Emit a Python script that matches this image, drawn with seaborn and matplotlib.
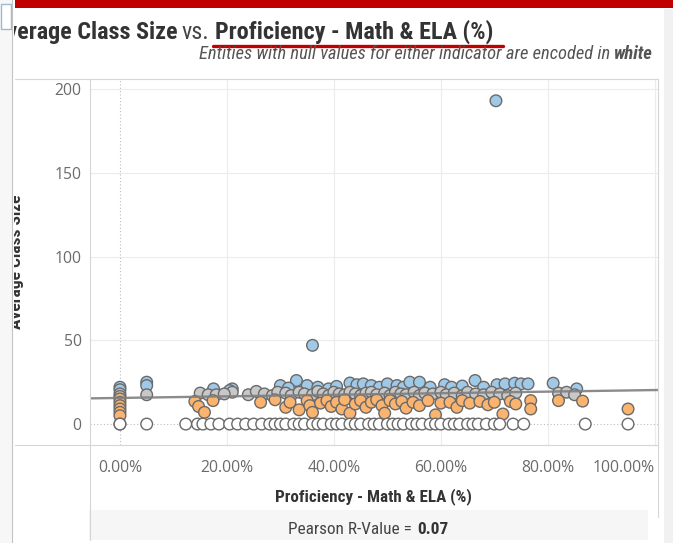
import numpy as np
import pandas as pd
import matplotlib
matplotlib.use("Agg")
import matplotlib.pyplot as plt
import seaborn as sns
from matplotlib import font_manager as fm
from matplotlib.transforms import Bbox
from matplotlib.lines import Line2D
from matplotlib.patches import Rectangle

# ---------------- data ----------------
blue_x = [0, 0, 5, 5, 17.5, 21, 20.5, 30, 33, 35, 31.5, 37, 39, 40.5, 43, 44.3, 45.5, 47, 48.5, 50,
          51.8, 53, 54.2, 56, 58, 60.7, 62, 64, 66.4, 68, 70.5, 72, 73.8, 75, 76.3, 81, 85.4, 36, 70.3]
blue_y = [22, 20.5, 25, 23, 21, 21, 20, 23, 26, 23, 21.5, 22, 21, 22.5, 24.5, 23.5, 24, 23, 22, 24,
          23, 22, 25, 25, 22, 23.5, 22, 22.7, 26, 22, 23.5, 24, 24.4, 24, 24, 24.4, 21, 47, 193]

gray_x = [0, 0, 5, 15, 16.5, 18, 21, 19.5, 24, 25.5, 27, 28.5, 29.5, 31, 32, 33.5, 34.5, 36, 37, 38,
          39, 40, 41, 42, 43, 44, 45, 46, 47, 48, 49.5, 50.5, 51.5, 52.5, 53.5, 55, 56, 57, 58.5, 60,
          61, 62.5, 64, 65, 66.5, 68, 69.5, 71, 72.5, 74, 82, 83.5, 85]
gray_y = [18, 16.5, 17.5, 18.5, 17.5, 17.5, 19, 18, 17.5, 19.5, 18, 17, 19, 18.5, 17, 19, 18, 17.5, 19.5, 18,
          17, 19, 18, 17.5, 19, 18, 17, 18.5, 19, 17.5, 18.5, 17, 19, 18, 17.5, 19, 17, 18.5, 18, 19,
          17.5, 18.5, 17, 19, 18, 17.5, 19, 18, 17, 18.5, 18.5, 19, 17.5]

orange_x = [0, 0, 0, 0, 0, 0, 14, 14.7, 15.8, 17.4, 26.3, 29, 31, 31.8, 33.5, 35, 35.5, 36, 37.5, 38.7,
            39.5, 40.5, 41.5, 42, 43, 44, 45, 46, 47, 48, 49, 49.5, 50.5, 51.5, 52.7, 53.5, 54.8, 56, 57.6, 59,
            60, 61.7, 63, 64, 65.4, 67.3, 68.8, 70, 71.6, 73, 74, 76.8, 76.8, 82, 86.5, 95]
orange_y = [15, 13, 11, 9, 7, 5, 13.5, 10.5, 7, 14, 13, 14.5, 10, 13, 8.5, 14, 11, 7, 12.5, 14,
            10.5, 13, 9, 14.5, 6.5, 12, 14, 10, 13, 14.5, 11, 6.5, 14, 12, 13.5, 9.5, 13, 11, 14, 5.5,
            12.5, 13, 10, 14, 12.5, 13.5, 11.5, 13, 6, 13.5, 12, 14, 9, 14, 13.7, 9]

white_x = [0, 0, 5, 12.3, 14.5, 15.5, 17, 18.5, 20.5, 22, 23.5, 25, 26.5, 28, 29, 30, 31, 32.5, 33.5, 34.5,
           36, 37, 38, 39.5, 40.5, 41.5, 43, 44, 45, 46.5, 47.5, 48.5, 50, 51, 52, 53, 54.5, 55.5, 56.5, 58,
           59, 60, 61.5, 62.5, 63.5, 65, 66, 67, 68.5, 70, 71, 73.5, 75.5, 87, 95]
white_y = [0] * len(white_x)

trend_intercept = 15.6   # class size at 0 %
trend_slope = 0.047      # per percentage point

x_ticks = [0, 20, 40, 60, 80, 100]
x_tick_labels = ["0.00%", "20.00%", "40.00%", "60.00%", "80.00%", "100.00%"]
y_ticks = [0, 50, 100, 150, 200]
y_tick_labels = ["0", "50", "100", "150", "200"]

title_bold_1 = "Average Class Size"
title_mid = "vs."
title_bold_2 = "Proficiency - Math & ELA (%)"
subtitle_text = "Entities with null values for either indicator are encoded in"
subtitle_bold = "white"
x_title = "Proficiency - Math & ELA (%)"
y_title = "Average Class Size"
pearson_label = "Pearson R-Value ="
pearson_value = "0.07"

groups = ["High", "Mid", "Low", "Null"]
palette = {"High": "#a0c9e8", "Mid": "#c8c8c8", "Low": "#fbb46f", "Null": "#ffffff"}

df = pd.concat([
    pd.DataFrame({"x": blue_x, "y": blue_y, "g": "High"}),
    pd.DataFrame({"x": gray_x, "y": gray_y, "g": "Mid"}),
    pd.DataFrame({"x": orange_x, "y": orange_y, "g": "Low"}),
    pd.DataFrame({"x": white_x, "y": white_y, "g": "Null"}),
], ignore_index=True)

# ---------------- style ----------------
sns.set_theme(style="white")


def has_font(name):
    try:
        fm.findfont(fm.FontProperties(family=name), fallback_to_default=False)
        return True
    except Exception:
        return False


COND = next((f for f in ["Roboto Condensed", "Fira Sans Condensed", "Asap Condensed",
                         "Archivo Narrow", "Liberation Sans"] if has_font(f)), "DejaVu Sans")
TICKF = next((f for f in ["Open Sans", "Lato", "DejaVu Sans"] if has_font(f)), "DejaVu Sans")
plt.rcParams["font.family"] = [COND, "DejaVu Sans"]

W, H = 673, 543
fig = plt.figure(figsize=(W / 100, H / 100), dpi=100)
fig.patch.set_facecolor("white")
renderer = fig.canvas.get_renderer()


def fx(x):
    return x / W


def fy(y):
    return 1 - y / H


def width_of(t):
    return t.get_window_extent(renderer).width


def fit(t, target):
    t.set_fontsize(t.get_fontsize() * target / width_of(t))
    return t.get_fontsize()


# axes placement (pixels)
L, R, T, B = 90, 658, 79, 445
ax = fig.add_axes([fx(L), fy(B), fx(R) - fx(L), fy(T) - fy(B)])
ax.set_facecolor("white")
xlim = (-5.6, 100.6)
ylim = (-12.5, 206)
ax.set_xlim(*xlim)
ax.set_ylim(*ylim)

# grid
for v in x_ticks[1:]:
    ax.axvline(v, color="#ececec", lw=0.8, zorder=0)
for v in y_ticks[1:]:
    ax.axhline(v, color="#ececec", lw=0.8, zorder=0)
ax.axvline(0, color="#bdbdbd", lw=0.8, ls=(0, (1, 2)), zorder=0)
ax.axhline(0, color="#bdbdbd", lw=0.8, ls=(0, (1, 2)), zorder=0)

sns.scatterplot(data=df, x="x", y="y", hue="g", hue_order=groups, palette=palette,
                s=70, edgecolor="#6a6a6a", linewidth=1.0, legend=False, ax=ax, zorder=3)

trend_df = pd.DataFrame({"x": list(xlim)})
trend_df["y"] = trend_intercept + trend_slope * trend_df["x"]
sns.lineplot(data=trend_df, x="x", y="y", color="#7f7f7f", lw=1.7, alpha=0.9, ax=ax, zorder=4)

ax.set_xticks(x_ticks)
ax.set_xticklabels(x_tick_labels)
ax.set_yticks(y_ticks)
ax.set_yticklabels(y_tick_labels)
ax.tick_params(axis="both", length=0, colors="#6b6b6b", labelsize=11.3)
ax.tick_params(axis="x", pad=11)
ax.tick_params(axis="y", pad=6)
for lab in ax.get_xticklabels() + ax.get_yticklabels():
    lab.set_fontfamily(TICKF)
ax.get_xticklabels()[-1].set_horizontalalignment("right")
ax.set_xlabel("")
ax.set_ylabel("")
for s in ax.spines.values():
    s.set_visible(False)

# ---------------- decorations ----------------
def fline(x0, y0, x1, y1, color="#d6d6d6", lw=0.8):
    fig.add_artist(Line2D([fx(x0), fx(x1)], [fy(y0), fy(y1)], transform=fig.transFigure,
                          color=color, lw=lw))


def frect(x0, y0, x1, y1, fc, ec="none", lw=0.0):
    fig.add_artist(Rectangle((fx(x0), fy(y1)), fx(x1) - fx(x0), fy(y0) - fy(y1),
                             transform=fig.transFigure, facecolor=fc, edgecolor=ec, lw=lw))


frect(0, 0, 12, H, "#f7f7f7")
frect(1, 4, 11, 29, "white", ec="#9fb9d3", lw=1.0)
fline(12, 0, 12, H, color="#c4c4c4")
frect(664, 9, W, H, "#f1f1f1")
frect(15, 0, W, 8, "#c00000")

fline(15, T, R, T)
fline(15, B, R, B)
fline(L, T, L, 540)
fline(R, T, R, 517)

clip = Bbox.from_extents(14, 0, W, H)

# title
t3 = fig.text(fx(215), fy(39), title_bold_2, ha="left", va="baseline", fontsize=18,
              fontweight="bold", color="#333333")
tsize = fit(t3, 278)
t1 = fig.text(fx(178), fy(39), title_bold_1, ha="right", va="baseline", fontsize=tsize,
              fontweight="bold", color="#333333")
t1.set_clip_box(clip)
t1.set_clip_on(True)
fig.text(fx(195), fy(39), title_mid, ha="center", va="baseline", fontsize=tsize, color="#444444")
fline(213, 45.5, 503, 45.5, color="#c00000", lw=2.4)

# subtitle
s1 = fig.text(fx(608), fy(59), subtitle_text, ha="right", va="baseline", fontsize=11,
              style="italic", color="#555555")
s2 = fig.text(fx(653), fy(59), subtitle_bold, ha="right", va="baseline", fontsize=11,
              style="italic", fontweight="bold", color="#555555")
w1, w2 = width_of(s1), width_of(s2)
k = (653 - 200) / (w1 + w2 + 4)
s1.set_fontsize(11 * k)
s2.set_fontsize(11 * k)
s1.set_x(fx(653 - width_of(s2) - 4))

# y title (clipped at the left edge, like the reference)
ty = fig.text(fx(21), fy(262), y_title, rotation=90, rotation_mode="anchor",
              ha="center", va="baseline", fontsize=12, fontweight="bold", color="#333333")
fit_w = ty.get_window_extent(renderer).height
ty.set_fontsize(12 * 135 / fit_w)
ty.set_clip_box(clip)
ty.set_clip_on(True)

# x title
tx = fig.text(fx(373), fy(497), x_title, ha="center", va="center", fontsize=12.5,
              fontweight="bold", color="#333333")
fit(tx, 196)

# pearson box
frect(89, 510, 648, 540, "#f6f6f6")
p1 = fig.text(fx(418), fy(529), pearson_label + " ", ha="right", va="center", fontsize=12.4,
              color="#444444")
p2 = fig.text(fx(419), fy(529), pearson_value, ha="left", va="center", fontsize=12.4,
              fontweight="bold", color="#333333")
k2 = 160 / (width_of(p1) + width_of(p2))
p1.set_fontsize(12.4 * k2)
p2.set_fontsize(12.4 * k2)
wv = width_of(p2)
p1.set_x(fx(448 - wv - 1))
p2.set_x(fx(448 - wv))

fig.savefig("out.png", dpi=100)
